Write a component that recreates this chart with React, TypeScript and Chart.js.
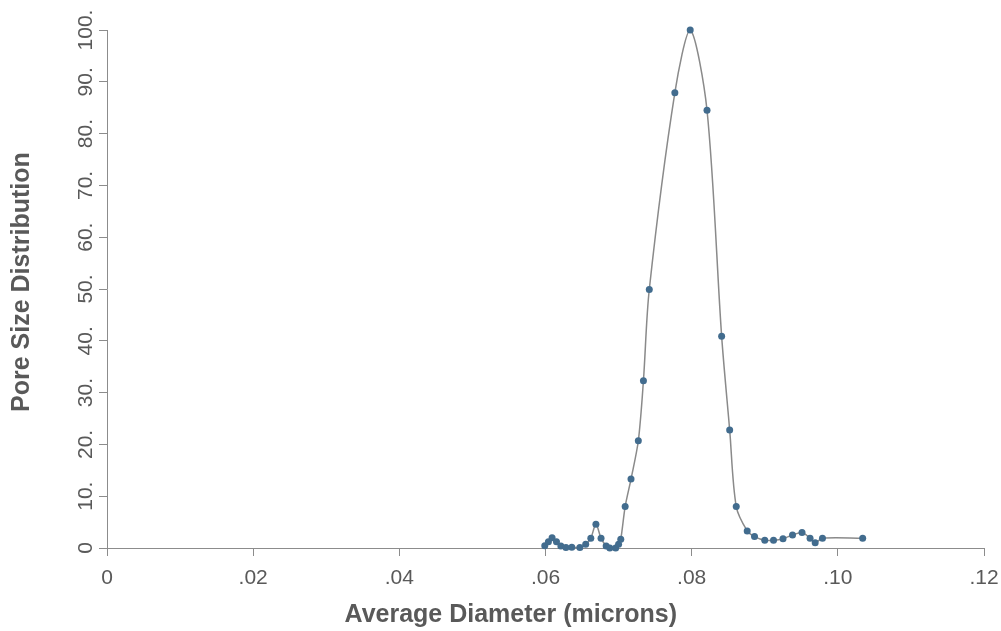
import React, { useEffect, useRef } from "react";
import { Chart, registerables } from "chart.js";

Chart.register(...registerables);

const diameters: number[] = [
  0.0599, 0.0604, 0.0609, 0.0615, 0.0621, 0.0628, 0.0636, 0.0647, 0.0655, 0.0662,
  0.0669, 0.0676, 0.0683, 0.0688, 0.0696, 0.07, 0.0703, 0.0709, 0.0717, 0.0727,
  0.0734, 0.0742, 0.0777, 0.0798, 0.0821, 0.0841, 0.0852, 0.0861, 0.0876, 0.0886,
  0.09, 0.0912, 0.0925, 0.0938, 0.0951, 0.0962, 0.0969, 0.0979, 0.1034,
];
const distribution: number[] = [
  0.45, 1.2, 2.0, 1.2, 0.4, 0.1, 0.15, 0.1, 0.7, 1.9,
  4.6, 1.9, 0.4, 0.0, 0.0, 0.7, 1.7, 8.0, 13.3, 20.7,
  32.3, 49.9, 87.9, 100, 84.5, 40.9, 22.8, 8.0, 3.3, 2.2,
  1.5, 1.5, 1.8, 2.5, 3.0, 1.9, 1.0, 1.9, 1.9,
];
const xTicks: number[] = [0, 0.02, 0.04, 0.06, 0.08, 0.1, 0.12];
const xTickLabels: string[] = ["0", ".02", ".04", ".06", ".08", ".10", ".12"];
const yTicks: number[] = [0, 10, 20, 30, 40, 50, 60, 70, 80, 90, 100];
const yTickLabels: string[] = ["0", "10.", "20.", "30.", "40.", "50.", "60.", "70.", "80.", "90.", "100."];
const xTitle = "Average Diameter (microns)";
const yTitle = "Pore Size Distribution";

const FONT = "'Liberation Sans', Arial, Helvetica, sans-serif";
const AXIS = "#8c8c8c";
const TEXT = "#595959";

function labelFor(v: number, ticks: number[], labels: string[]): string {
  for (let i = 0; i < ticks.length; i++) {
    if (Math.abs(ticks[i] - v) < 1e-9) return labels[i];
  }
  return "";
}

export default function App() {
  const ref = useRef<HTMLCanvasElement | null>(null);
  useEffect(() => {
    if (!ref.current) return;
    const data = diameters.map((x, i) => ({ x, y: distribution[i] }));
    const chart = new Chart(ref.current, {
      type: "line",
      data: {
        datasets: [
          {
            data,
            borderColor: "#8a8a8a",
            borderWidth: 1.5,
            tension: 0.3,
            clip: false,
            pointRadius: 3.5,
            pointBackgroundColor: "#426c8e",
            pointBorderColor: "#426c8e",
            pointBorderWidth: 0,
            fill: false,
          },
        ],
      },
      options: {
        responsive: false,
        animation: false,
        layout: { padding: { top: 30, right: 17, left: 0, bottom: 0 } },
        plugins: { legend: { display: false }, tooltip: { enabled: false } },
        scales: {
          x: {
            type: "linear",
            min: 0,
            max: 0.12,
            afterBuildTicks: (s: any) => {
              s.ticks = xTicks.map((v) => ({ value: v }));
            },
            afterFit: (s: any) => {
              s.height = 83;
              s.paddingLeft = 0;
              s.paddingRight = 0;
            },
            grid: { drawOnChartArea: false, drawTicks: true, tickLength: 8, color: AXIS },
            border: { color: AXIS, width: 1 },
            ticks: {
              color: TEXT,
              font: { family: FONT, size: 21 },
              padding: 10,
              maxRotation: 0,
              callback: (v: any) => labelFor(Number(v), xTicks, xTickLabels),
            },
            title: {
              display: true,
              text: xTitle + "          ",
              color: TEXT,
              font: { family: FONT, size: 25, weight: "bold" },
              padding: { top: 0, bottom: 1 },
            },
          },
          y: {
            type: "linear",
            min: 0,
            max: 100,
            afterBuildTicks: (s: any) => {
              s.ticks = yTicks.map((v) => ({ value: v }));
            },
            afterFit: (s: any) => {
              s.width = 107;
              s.paddingTop = 0;
              s.paddingBottom = 0;
            },
            grid: { drawOnChartArea: false, drawTicks: true, tickLength: 8, color: AXIS },
            border: { color: AXIS, width: 1 },
            ticks: {
              color: TEXT,
              font: { family: FONT, size: 21 },
              padding: -8,
              minRotation: 90,
              maxRotation: 90,
              crossAlign: "center",
              callback: (v: any) => labelFor(Number(v), yTicks, yTickLabels),
            },
            title: {
              display: true,
              text: "  " + yTitle,
              color: TEXT,
              font: { family: FONT, size: 25, weight: "bold" },
              padding: { top: 7, bottom: 0 },
            },
          },
        },
      },
    } as any);
    return () => chart.destroy();
  }, []);
  return (
    <div style={{ position: "absolute", left: 0, top: 0, width: 1001, height: 631, background: "#fff" }}>
      <canvas ref={ref} width={1001} height={631} style={{ display: "block" }} />
    </div>
  );
}
